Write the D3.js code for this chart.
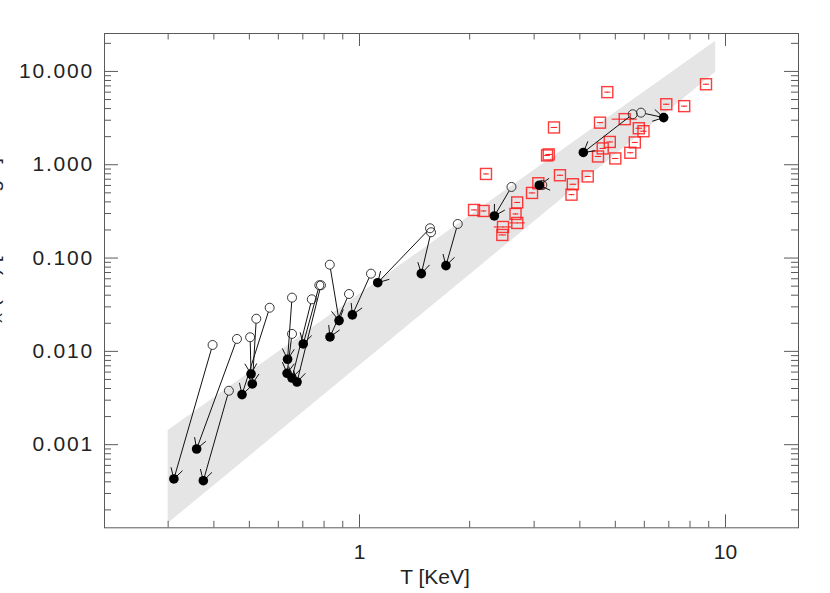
<!DOCTYPE html>
<html><head><meta charset="utf-8">
<script src="https://cdn.jsdelivr.net/npm/d3@7"></script>
<style>body{margin:0;background:#fff}svg{display:block}</style>
</head><body><svg id="c" width="830" height="593"></svg>
<script>
// ---- data ----
// groups: open circle (before) -> filled circle (after)
const groupTBefore = [0.398,0.441,0.464,0.570,0.524,0.504,0.656,0.656,0.743,0.787,0.779,0.939,0.832,1.078,1.563,1.573,1.861,2.61,3.168,5.595,5.895];
const groupLBefore = [0.01157,0.00374,0.01342,0.0290,0.0221,0.0140,0.0372,0.0152,0.0357,0.0505,0.0505,0.0407,0.0839,0.0672,0.206,0.1867,0.229,0.571,0.600,3.435,3.573];
const groupTAfter  = [0.312,0.3755,0.360,0.479,0.511,0.507,0.638,0.636,0.656,0.677,0.704,0.833,0.882,0.959,1.125,1.480,1.728,2.343,3.109,4.101,6.80];
const groupLAfter  = [0.000424,0.000406,0.000888,0.00340,0.00442,0.00565,0.00813,0.00575,0.00512,0.00464,0.01186,0.01409,0.0211,0.0243,0.0538,0.0672,0.0819,0.279,0.596,1.338,3.16];
// clusters: red squares with error bars
const clusterT    = [2.062,2.189,2.223,2.474,2.464,2.677,2.705,2.707,2.970,3.090,3.264,3.299,3.541,3.839,3.807,3.410,4.216,4.498,4.555,4.633,4.769,4.844,5.015,5.321,5.512,5.670,5.814,5.988,6.912,7.737,8.874];
const clusterL    = [0.3237,0.3158,0.787,0.2128,0.1747,0.2934,0.3896,0.2349,0.4926,0.6258,1.243,1.274,0.762,0.6104,0.4722,2.480,0.740,1.212,2.792,1.477,5.927,1.734,1.154,3.043,1.328,1.713,2.431,2.258,4.397,4.195,7.202];
const clusterTErr = [0.04,0.04,0.04,0.14,0.06,0.05,0.05,0.13,0.06,0.06,0.06,0.07,0.07,0.08,0.07,0.07,0.08,0.09,0.09,0.09,0.09,0.10,0.10,0.42,0.11,0.11,0.12,0.12,0.14,0.15,0.17];
const clusterLErr = [0.004,0.004,0.01,0.003,0.002,0.004,0.005,0.003,0.006,0.008,0.016,0.016,0.01,0.008,0.006,0.03,0.01,0.015,0.035,0.02,0.07,0.02,0.015,0.04,0.017,0.02,0.03,0.03,0.05,0.05,0.09];
// shaded relation band
const bandT    = [0.3, 9.4];
const bandLow  = [1.43e-4, 9.8];
const bandHigh = [1.42e-3, 21.1];
// ticks
const xTickValues = [1, 10];
const xTickLabels = ["1", "10"];
const yTickValues = [0.001, 0.01, 0.1, 1, 10];
const yTickLabels = ["0.001", "0.010", "0.100", "1.000", "10.000"];
const xTitle = "T [KeV]";

// ---- chart ----
const svg = d3.select("#c");
const L = 104, R = 798, T = 33, B = 527.3;
const x = d3.scaleLog().domain([0.201, 15.83]).range([L, R]);
const y = d3.scaleLog().domain([1.286e-4, 25.5]).range([B, T]);
const FONT = "'Liberation Sans', Arial, sans-serif";
const axisCol = "#5a5a5a";

// band
const bandPts = bandT.map((t,i)=>[x(t), y(bandLow[i])]).concat(bandT.map((t,i)=>[x(t), y(bandHigh[i])]).reverse());
svg.append("path").attr("d", d3.line()(bandPts) + "Z").attr("fill", "#e5e5e5");

// minor ticks
function minorVals(dom){
  const out=[]; const lo=Math.floor(Math.log10(dom[0])), hi=Math.ceil(Math.log10(dom[1]));
  for(let e=lo;e<=hi;e++) for(let m=2;m<=9;m++){const v=m*Math.pow(10,e); if(v>dom[0]&&v<dom[1]) out.push(v);}
  return out;
}
const xMinor = minorVals(x.domain()), yMinor = minorVals(y.domain());

function styleAxis(g){ g.select(".domain").remove(); g.selectAll("line").attr("stroke", axisCol); }

// bottom
svg.append("g").attr("transform",`translate(0,${B})`).call(d3.axisBottom(x).tickValues(xMinor).tickSize(-6.5).tickFormat("")).call(styleAxis);
const xb = svg.append("g").attr("transform",`translate(0,${B})`).call(d3.axisBottom(x).tickValues(xTickValues).tickSize(-13).tickPadding(17).tickFormat((d,i)=>xTickLabels[i])).call(styleAxis);
xb.selectAll("text").attr("font-family",FONT).attr("font-size",21).attr("fill","#222");
// top
svg.append("g").attr("transform",`translate(0,${T})`).call(d3.axisTop(x).tickValues(xMinor).tickSize(-6.5).tickFormat("")).call(styleAxis);
svg.append("g").attr("transform",`translate(0,${T})`).call(d3.axisTop(x).tickValues(xTickValues).tickSize(-13).tickFormat("")).call(styleAxis);
// left
svg.append("g").attr("transform",`translate(${L},0)`).call(d3.axisLeft(y).tickValues(yMinor).tickSize(-7).tickFormat("")).call(styleAxis);
const yl = svg.append("g").attr("transform",`translate(${L},0)`).call(d3.axisLeft(y).tickValues(yTickValues).tickSize(-14).tickPadding(10).tickFormat((d,i)=>yTickLabels[i])).call(styleAxis);
yl.selectAll("text").attr("font-family",FONT).attr("font-size",21).attr("letter-spacing","1.8px").attr("fill","#222");
// right
svg.append("g").attr("transform",`translate(${R},0)`).call(d3.axisRight(y).tickValues(yMinor).tickSize(-7).tickFormat("")).call(styleAxis);
svg.append("g").attr("transform",`translate(${R},0)`).call(d3.axisRight(y).tickValues(yTickValues).tickSize(-14).tickFormat("")).call(styleAxis);

// frame
svg.append("rect").attr("x",L+0.5).attr("y",T+0.5).attr("width",R-L).attr("height",B-T)
  .attr("fill","none").attr("stroke",axisCol).attr("stroke-width",1);

// axis titles
svg.append("text").attr("x",435).attr("y",584).attr("text-anchor","middle")
  .attr("font-family",FONT).attr("font-size",21).attr("fill","#222").attr("xml:space","preserve").text(xTitle);
const yt = svg.append("text").attr("transform","translate(-1.5,158) rotate(-90)").attr("text-anchor","end")
  .attr("font-family",FONT).attr("font-size",21).attr("fill","#222");
yt.append("tspan").text("L");
yt.append("tspan").attr("font-size",15).attr("dy",3).text("X");
yt.append("tspan").attr("dy",-3).text(" (h");
yt.append("tspan").attr("font-size",15).attr("dy",-8).text("-2");
yt.append("tspan").attr("dy",8).text(") [10");
yt.append("tspan").attr("font-size",15).attr("dy",-8).text("44");
yt.append("tspan").attr("dy",8).text(" erg/s]");

// clusters (red squares + error bars)
const cl = svg.append("g").attr("stroke","#ff1a1a").attr("fill","none");
clusterT.forEach((t,i)=>{
  const cx = x(t), cy = y(clusterL[i]);
  cl.append("line").attr("x1",x(t-clusterTErr[i])).attr("x2",x(t+clusterTErr[i])).attr("y1",cy).attr("y2",cy).attr("stroke-width",1);
  cl.append("line").attr("x1",cx).attr("x2",cx).attr("y1",y(clusterL[i]-clusterLErr[i])).attr("y2",y(clusterL[i]+clusterLErr[i])).attr("stroke-width",1);
  cl.append("rect").attr("x",cx-5.5).attr("y",cy-5.5).attr("width",11).attr("height",11).attr("stroke-width",1.4).attr("stroke-opacity",0.85);
});

// groups (arrows)
const gg = svg.append("g");
const rOpen = 4.5, rFill = 4.8, arm = 12, ang = Math.PI/6;
groupTBefore.forEach((t,i)=>{
  const x1 = x(t), y1 = y(groupLBefore[i]);
  const x2 = x(groupTAfter[i]), y2 = y(groupLAfter[i]);
  const th = Math.atan2(y1-y2, x1-x2);
  const sx = x1 - rOpen*Math.cos(th), sy = y1 - rOpen*Math.sin(th);
  gg.append("line").attr("x1",sx).attr("y1",sy).attr("x2",x2).attr("y2",y2).attr("stroke","#111").attr("stroke-width",1);
  [th+ang, th-ang].forEach(a=>{
    gg.append("line").attr("x1",x2).attr("y1",y2).attr("x2",x2+arm*Math.cos(a)).attr("y2",y2+arm*Math.sin(a)).attr("stroke","#111").attr("stroke-width",1);
  });
  gg.append("circle").attr("cx",x1).attr("cy",y1).attr("r",rOpen).attr("fill","none").attr("stroke","#222").attr("stroke-width",0.9);
  gg.append("circle").attr("cx",x2).attr("cy",y2).attr("r",rFill).attr("fill","#000");
});
</script></body></html>
